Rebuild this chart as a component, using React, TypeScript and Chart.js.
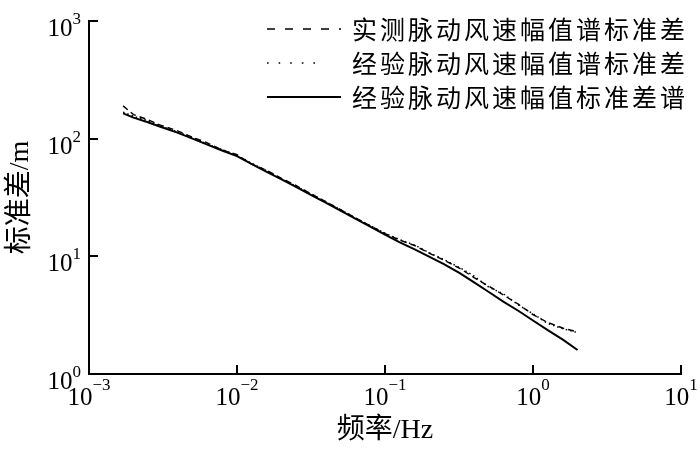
import React, { useEffect, useRef } from "react";
import { Chart, registerables } from "chart.js";

Chart.register(...registerables);

// ---- data ----
const freq = [
  0.0017, 0.002, 0.0025, 0.003, 0.004, 0.005, 0.0063, 0.008, 0.01, 0.0125,
  0.016, 0.02, 0.025, 0.032, 0.04, 0.05, 0.063, 0.08, 0.1, 0.125,
  0.16, 0.2, 0.25, 0.32, 0.4, 0.5, 0.63, 0.8, 1.0, 1.25, 1.6, 2.0,
];
const measuredStd = [
  190, 160, 145, 131, 116, 103, 92, 80, 73, 61,
  53.5, 46, 40, 33.8, 29, 25, 21.3, 18.1, 15.6, 13.8,
  12.3, 10.6, 9.3, 7.9, 6.6, 5.6, 4.7, 3.9, 3.2, 2.75, 2.45, 2.28,
];
const empiricalStd = [
  168, 155, 142, 129, 114, 102, 90, 80.5, 72, 62,
  53, 45.5, 39.5, 33.5, 29, 25, 21.2, 18.2, 15.7, 13.9,
  12.4, 10.7, 9.4, 8.0, 6.8, 5.5, 4.8, 3.85, 3.25, 2.7, 2.42, 2.25,
];
const fittedStd = [
  164, 151, 138, 127, 112, 100, 89, 79, 71, 61,
  52, 45, 39, 33, 28.5, 24.5, 20.9, 17.8, 15.3, 13.2,
  11.4, 9.9, 8.6, 7.2, 6.0, 5.0, 4.12, 3.43, 2.85, 2.37, 1.95, 1.6,
];
const seriesLabels = [
  "实测脉动风速幅值谱标准差",
  "经验脉动风速幅值谱标准差",
  "经验脉动风速幅值标准差谱",
];
const xTickExps = [-3, -2, -1, 0, 1];
const yTickExps = [0, 1, 2, 3];
const xTitle = "频率/Hz";
const yTitle = "标准差/m";

const SERIF = '"Liberation Serif", "Times New Roman", "Noto Sans CJK SC", serif';
const CJK = '"Noto Sans CJK SC", "Liberation Serif", sans-serif';

function supText(e: number) {
  return e < 0 ? "\u2212" + String(-e) : String(e);
}

const decorPlugin = {
  id: "decor",
  afterDraw(chart: any) {
    const ctx: CanvasRenderingContext2D = chart.ctx;
    const { left, right, top, bottom } = chart.chartArea;
    const xs = chart.scales.x;
    const ys = chart.scales.y;
    ctx.save();
    ctx.strokeStyle = "#000";
    ctx.fillStyle = "#000";
    ctx.setLineDash([]);
    ctx.lineWidth = 2;
    ctx.lineCap = "butt";
    // axes
    ctx.beginPath();
    ctx.moveTo(left, top);
    ctx.lineTo(left, bottom);
    ctx.lineTo(right + 1, bottom);
    ctx.stroke();
    // ticks (inward)
    ctx.beginPath();
    xTickExps.forEach((e) => {
      const px = Math.round(xs.getPixelForValue(Math.pow(10, e)));
      ctx.moveTo(px, bottom);
      ctx.lineTo(px, bottom - 9);
    });
    yTickExps.forEach((e) => {
      const py = Math.round(ys.getPixelForValue(Math.pow(10, e)));
      ctx.moveTo(left - 1, py);
      ctx.lineTo(left + 9, py);
    });
    ctx.stroke();

    // tick labels
    const baseFont = "25px " + SERIF;
    const supFont = "17px " + SERIF;
    ctx.textBaseline = "alphabetic";
    ctx.textAlign = "left";
    xTickExps.forEach((e) => {
      const px = xs.getPixelForValue(Math.pow(10, e));
      const s = supText(e);
      ctx.font = baseFont;
      const wb = ctx.measureText("10").width;
      ctx.font = supFont;
      const ws = ctx.measureText(s).width;
      const x0 = px - (wb + ws) / 2;
      ctx.font = baseFont;
      ctx.fillText("10", x0, bottom + 31);
      ctx.font = supFont;
      ctx.fillText(s, x0 + wb, bottom + 16);
    });
    yTickExps.forEach((e) => {
      const py = ys.getPixelForValue(Math.pow(10, e));
      const s = supText(e);
      ctx.font = baseFont;
      const wb = ctx.measureText("10").width;
      ctx.font = supFont;
      const ws = ctx.measureText(s).width;
      const xEnd = left - 8;
      ctx.font = baseFont;
      ctx.fillText("10", xEnd - ws - wb, py + 15);
      ctx.font = supFont;
      ctx.fillText(s, xEnd - ws, py + 3);
    });

    // axis titles
    ctx.font = "28px " + SERIF;
    ctx.textAlign = "center";
    ctx.textBaseline = "middle";
    ctx.fillText(xTitle, (left + right) / 2, 431);
    ctx.save();
    ctx.translate(21, (top + bottom) / 2);
    ctx.rotate(-Math.PI / 2);
    ctx.fillText(yTitle, 0, 0);
    ctx.restore();

    // legend
    const rowY = [29, 63, 97];
    chart.data.datasets.forEach((ds: any, i: number) => {
      const y = rowY[i];
      ctx.save();
      ctx.strokeStyle = "#000";
      ctx.lineWidth = i === 2 ? 2 : 1.6;
      if (i === 0) ctx.setLineDash([8, 10]);
      else if (i === 1) ctx.setLineDash([1.6, 10]);
      else ctx.setLineDash([]);
      ctx.beginPath();
      ctx.moveTo(267, y);
      ctx.lineTo(i === 1 ? 325 : 341, y);
      ctx.stroke();
      ctx.restore();
      ctx.font = "25px " + CJK;
      (ctx as any).letterSpacing = "3px";
      ctx.textAlign = "left";
      ctx.textBaseline = "middle";
      ctx.fillText(ds.label, 352, y);
      (ctx as any).letterSpacing = "0px";
    });
    ctx.restore();
  },
};

export default function App() {
  const ref = useRef<HTMLCanvasElement>(null);
  useEffect(() => {
    if (!ref.current) return;
    const mk = (vals: number[]) => freq.map((f, i) => ({ x: f, y: vals[i] }));
    const chart = new Chart(ref.current, {
      type: "line",
      data: {
        datasets: [
          {
            label: seriesLabels[0],
            data: mk(measuredStd),
            borderColor: "#000",
            borderWidth: 1.4,
            borderDash: [6, 4],
            pointRadius: 0,
            tension: 0,
            fill: false,
            order: 2,
          },
          {
            label: seriesLabels[1],
            data: mk(empiricalStd),
            borderColor: "#000",
            borderWidth: 1.5,
            borderDash: [1.5, 3],
            pointRadius: 0,
            tension: 0,
            fill: false,
            order: 3,
          },
          {
            label: seriesLabels[2],
            data: mk(fittedStd),
            borderColor: "#000",
            borderWidth: 2,
            pointRadius: 0,
            tension: 0,
            fill: false,
            order: 1,
          },
        ],
      },
      options: {
        animation: false,
        responsive: false,
        maintainAspectRatio: false,
        layout: { padding: { top: 21, right: 19, left: 0, bottom: 0 } },
        plugins: { legend: { display: false }, tooltip: { enabled: false } },
        scales: {
          x: {
            type: "logarithmic",
            min: 0.001,
            max: 10,
            grid: { display: false },
            border: { display: false },
            ticks: { display: false },
            afterFit: (s: any) => {
              s.height = 76;
            },
          },
          y: {
            type: "logarithmic",
            min: 1,
            max: 1000,
            grid: { display: false },
            border: { display: false },
            ticks: { display: false },
            afterFit: (s: any) => {
              s.width = 89;
            },
          },
        },
      } as any,
      plugins: [decorPlugin],
    });
    return () => chart.destroy();
  }, []);
  return (
    <div style={{ position: "absolute", left: 0, top: 0, width: 700, height: 450, background: "#fff" }}>
      <canvas ref={ref} width={700} height={450} style={{ display: "block", width: 700, height: 450 }} />
    </div>
  );
}
